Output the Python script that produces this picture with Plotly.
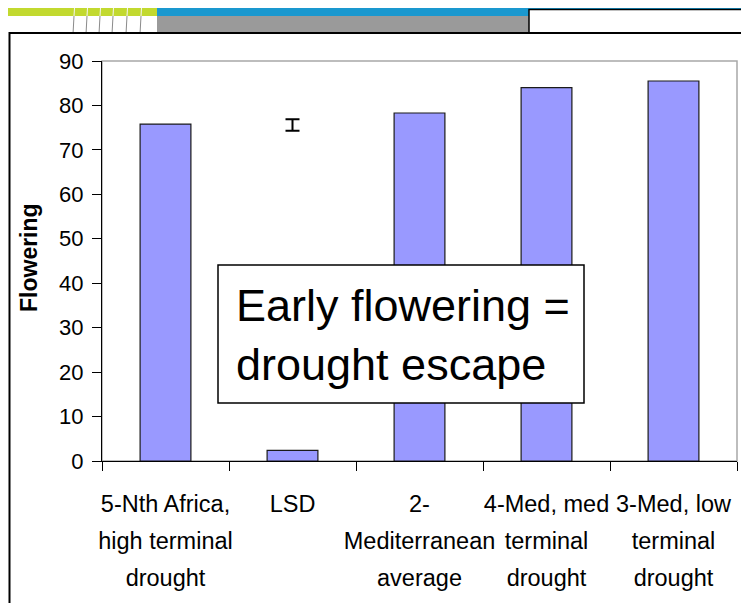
import plotly.graph_objects as go

# ---- data ----
categories = ["5-Nth Africa,<br>high terminal<br>drought",
              "LSD",
              "2-<br>Mediterranean<br>average",
              "4-Med, med<br>terminal<br>drought",
              "3-Med, low<br>terminal<br>drought"]
flowering = [75.8, 2.4, 78.3, 84.0, 85.5]
lsd_category = ["LSD"]
lsd_center = [75.6]
lsd_halfwidth = [1.3]
y_ticks = [0, 10, 20, 30, 40, 50, 60, 70, 80, 90]
y_title = "Flowering"
box_text = "Early flowering =<br>drought escape"

FONT = "Liberation Sans, Arial, Helvetica, sans-serif"

# page body adds an 8px offset, so the figure is 8px smaller than the window
OFF = 8
W, H = 749 - OFF, 603 - OFF
L, R, T, B = 102, 737, 61, 461  # plot area in window pixels


def px(x):
    return (x - L) / (R - L)


def py(y):
    return (B - y) / (B - T)


# tick labels with larger line spacing: outer font sets line height
ticktext = ["<br>".join('<span style="font-size:23.5px">%s</span>' % s for s in c.split("<br>"))
            for c in categories]

fig = go.Figure()
fig.add_trace(go.Bar(
    x=categories, y=flowering, width=0.4,
    marker=dict(color="#9999FF", line=dict(color="#1a1a1a", width=1.2)),
    showlegend=False, hoverinfo="x+y"))
fig.add_trace(go.Scatter(
    x=lsd_category, y=lsd_center, mode="markers",
    marker=dict(color="rgba(0,0,0,0)", size=1),
    error_y=dict(type="data", array=lsd_halfwidth, visible=True,
                 color="black", thickness=2, width=7),
    showlegend=False))

shapes = []
# slide decorations
shapes.append(dict(type="rect", xref="paper", yref="paper", layer="below",
                   x0=px(-5), x1=px(157), y0=py(16), y1=py(-5),
                   fillcolor="#C2D92F", line=dict(width=0)))
shapes.append(dict(type="rect", xref="paper", yref="paper", layer="below",
                   x0=px(157), x1=px(760), y0=py(16), y1=py(-5),
                   fillcolor="#1A98CF", line=dict(width=0)))
shapes.append(dict(type="rect", xref="paper", yref="paper", layer="below",
                   x0=px(157), x1=px(529), y0=py(34), y1=py(16),
                   fillcolor="#9A9A9A", line=dict(width=0)))
for xl in [73, 86, 99, 112, 126, 140]:
    shapes.append(dict(type="line", xref="paper", yref="paper", layer="below",
                       x0=px(xl + 1), x1=px(xl + 2), y0=py(16), y1=py(0),
                       line=dict(color="#F4F4F4", width=1)))
    shapes.append(dict(type="line", xref="paper", yref="paper", layer="below",
                       x0=px(xl), x1=px(xl + 1), y0=py(34), y1=py(16),
                       line=dict(color="#8A8A8A", width=1)))
shapes.append(dict(type="rect", xref="paper", yref="paper", layer="below",
                   x0=px(529), x1=px(770), y0=py(45), y1=py(9.5),
                   fillcolor="white", line=dict(color="black", width=1.5)))
# main chart frame
shapes.append(dict(type="rect", xref="paper", yref="paper", layer="below",
                   x0=px(9.5), x1=px(770), y0=py(620), y1=py(33),
                   fillcolor="white", line=dict(color="black", width=2)))
# plot area border (grey top/right)
shapes.append(dict(type="rect", xref="paper", yref="paper", layer="below",
                   x0=0, x1=1, y0=0, y1=1,
                   line=dict(color="#A8A8A8", width=1.5)))
# text box
shapes.append(dict(type="rect", xref="paper", yref="paper", layer="above",
                   x0=px(218), x1=px(584), y0=py(403), y1=py(265),
                   fillcolor="white", line=dict(color="black", width=1.5)))

annotations = [
    dict(text=box_text, xref="paper", yref="paper", x=px(234), y=py(335),
         xanchor="left", yanchor="middle", align="left", showarrow=False,
         font=dict(family=FONT, size=45, color="black")),
    dict(text="<b>%s</b>" % y_title, xref="paper", yref="paper", x=px(29), y=py(258),
         xanchor="center", yanchor="middle", textangle=-90, showarrow=False,
         font=dict(family=FONT, size=23, color="black")),
]

fig.update_layout(
    width=W, height=H,
    margin=dict(l=L - OFF, r=W - (R - OFF), t=T - OFF, b=H - (B - OFF), pad=0,
                autoexpand=False),
    paper_bgcolor="white", plot_bgcolor="white",
    font=dict(family=FONT, color="black"),
    bargap=0.6,
    shapes=shapes, annotations=annotations,
    xaxis=dict(type="category", tickmode="array", tickvals=categories, ticktext=ticktext,
               tickfont=dict(family=FONT, size=28.5, color="black"), tickangle=0,
               automargin=False, ticklabelstandoff=16,
               showline=True, linecolor="black", linewidth=1.2,
               ticks="outside", tickson="boundaries", ticklen=9, tickcolor="black",
               tickwidth=1, showgrid=False, zeroline=False, fixedrange=True),
    yaxis=dict(range=[0, 90], tickmode="array", tickvals=y_ticks,
               tickfont=dict(family=FONT, size=22, color="black"),
               automargin=False,
               showline=True, linecolor="black", linewidth=1.2,
               ticks="outside", ticklen=9, tickcolor="black", tickwidth=1,
               ticklabelstandoff=4,
               showgrid=False, zeroline=False, fixedrange=True),
)

fig.write_html("out.html")
